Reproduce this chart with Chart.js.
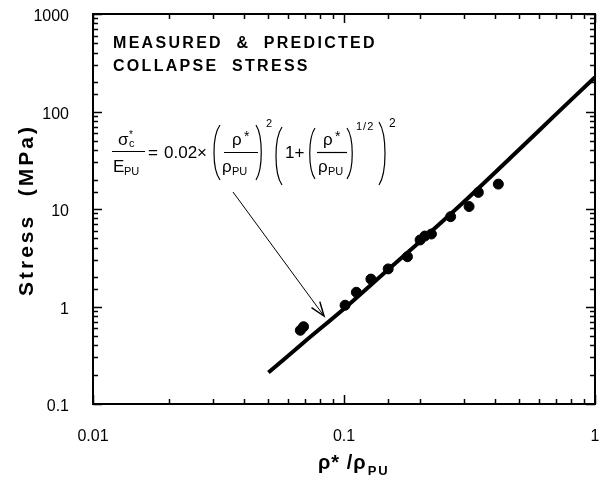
<!DOCTYPE html>
<html>
<head>
<meta charset="utf-8">
<script src="https://cdn.jsdelivr.net/npm/chart.js@4.4.0/dist/chart.umd.min.js"></script>
<style>
  html, body { margin: 0; padding: 0; background: #fff; }
</style>
</head>
<body>
<canvas id="chart" width="606" height="483"></canvas>
<script>
// measured collapse stress (points)
const densityRatio = [0.067, 0.069, 0.101, 0.112, 0.128, 0.150, 0.179, 0.201, 0.210, 0.223, 0.266, 0.315, 0.343, 0.412];
const measuredStress = [0.57, 0.62, 1.03, 1.40, 1.91, 2.43, 3.24, 4.81, 5.28, 5.54, 8.34, 10.6, 14.8, 18.0];

// predicted curve
const predictedRatio = [0.05, 0.07, 0.1, 0.15, 0.2, 0.3, 0.5, 0.7, 1];
const predictedStress = [0.21, 0.44, 0.95, 2.4, 4.6, 11.8, 41, 94, 225];

const xTickLabels = ['0.01', '0.1', '1'];
const yTickLabels = ['0.1', '1', '10', '100', '1000'];

const FONT = '"Liberation Sans", Arial, Helvetica, sans-serif';

function labelFor(list, v) {
    const l = list.find(t => Math.abs(Number(t) / v - 1) < 1e-6);
    return l === undefined ? '' : l;
}
function isDecade(v) {
    const l = Math.log10(v);
    return Math.abs(l - Math.round(l)) < 1e-6;
}

// frame, inward ticks, annotations
const decorations = {
    id: 'decorations',
    afterDraw(chart) {
        const ctx = chart.ctx;
        const a = chart.chartArea;
        const xs = chart.scales.x, ys = chart.scales.y;
        ctx.save();
        ctx.strokeStyle = '#000';
        ctx.fillStyle = '#000';

        // frame
        ctx.lineWidth = 2;
        ctx.strokeRect(a.left, a.top, a.right - a.left, a.bottom - a.top);

        // ticks
        ctx.lineWidth = 1.5;
        ctx.beginPath();
        xs.ticks.forEach(t => {
            const px = Math.round(xs.getPixelForValue(t.value)) + 0.5;
            const len = isDecade(t.value) ? 9 : 5;
            ctx.moveTo(px, a.bottom); ctx.lineTo(px, a.bottom - len);
            ctx.moveTo(px, a.top); ctx.lineTo(px, a.top + len);
        });
        ys.ticks.forEach(t => {
            const py = Math.round(ys.getPixelForValue(t.value)) + 0.5;
            const len = isDecade(t.value) ? 9 : 5;
            ctx.moveTo(a.left, py); ctx.lineTo(a.left + len, py);
            ctx.moveTo(a.right, py); ctx.lineTo(a.right - len, py);
        });
        ctx.stroke();

        // heading
        ctx.textBaseline = 'alphabetic';
        ctx.textAlign = 'left';
        ctx.font = 'bold 16px ' + FONT;
        ctx.letterSpacing = '2.3px';
        ctx.fillText('MEASURED  &  PREDICTED', 113, 48);
        ctx.fillText('COLLAPSE  STRESS', 113, 71);

        // axis titles
        ctx.font = 'bold 21px ' + FONT;
        ctx.letterSpacing = '3px';
        ctx.save();
        ctx.translate(33, 210);
        ctx.rotate(-Math.PI / 2);
        ctx.textAlign = 'center';
        ctx.fillText('Stress  (MPa)', 0, 0);
        ctx.restore();

        ctx.font = 'bold 20px ' + FONT;
        ctx.letterSpacing = '1px';
        ctx.fillText('ρ* /ρ', 318, 469);
        const w = ctx.measureText('ρ* /ρ').width;
        ctx.font = 'bold 13px ' + FONT;
        ctx.letterSpacing = '2px';
        ctx.fillText('PU', 318 + w + 1, 475);
        ctx.letterSpacing = '0px';

        // formula
        const main = '17px ' + FONT, small = '11px ' + FONT;
        const txt = (s, x, y, f) => { ctx.font = f; ctx.fillText(s, x, y); };
        const bar = (x1, x2, y) => {
            ctx.lineWidth = 1.2;
            ctx.beginPath(); ctx.moveTo(x1, y); ctx.lineTo(x2, y); ctx.stroke();
        };
        const paren = (x1, x2, y1, y2, left) => {
            const h = y2 - y1;
            ctx.lineWidth = 1.2;
            ctx.beginPath();
            if (left) {
                ctx.moveTo(x2, y1);
                ctx.bezierCurveTo(x1, y1 + h * 0.2, x1, y2 - h * 0.2, x2, y2);
            } else {
                ctx.moveTo(x1, y1);
                ctx.bezierCurveTo(x2, y1 + h * 0.2, x2, y2 - h * 0.2, x1, y2);
            }
            ctx.stroke();
        };

        txt('σ', 118, 145, main);
        txt('*', 129, 138, '10px ' + FONT);
        txt('c', 129, 147, small);
        bar(112, 145, 151.5);
        txt('E', 113, 172, main);
        txt('PU', 124, 175, small);
        txt('=', 148, 158, main);
        txt('0.02', 164, 158, main);
        txt('×', 197, 158, main);

        paren(212, 220, 125, 180, true);
        txt('ρ', 232, 145, main);
        txt('*', 244, 141, '14px ' + FONT);
        bar(224, 258, 152.5);
        txt('ρ', 222, 172, main);
        txt('PU', 232, 175, small);
        paren(256, 263, 125, 180, false);
        txt('2', 266, 127, small);

        paren(274, 282, 127, 185, true);
        txt('1+', 285, 158, main);
        paren(308, 315, 128, 179, true);
        txt('ρ', 323, 145, main);
        txt('*', 335, 141, '14px ' + FONT);
        bar(317, 347, 152.5);
        txt('ρ', 318, 172, main);
        txt('PU', 328, 175, small);
        paren(347, 354, 128, 179, false);
        ctx.letterSpacing = '1px';
        txt('1/2', 356, 130, small);
        ctx.letterSpacing = '0px';
        paren(379, 387, 122, 185, false);
        txt('2', 389, 127, '12px ' + FONT);

        // arrow
        ctx.lineWidth = 1;
        ctx.beginPath();
        ctx.moveTo(233, 192);
        ctx.lineTo(324, 316);
        ctx.stroke();
        const ang = Math.atan2(316 - 192, 324 - 233);
        ctx.beginPath();
        ctx.moveTo(324 - 15 * Math.cos(ang - 0.35), 316 - 15 * Math.sin(ang - 0.35));
        ctx.lineTo(324, 316);
        ctx.lineTo(324 - 15 * Math.cos(ang + 0.35), 316 - 15 * Math.sin(ang + 0.35));
        ctx.lineWidth = 1.5;
        ctx.stroke();

        ctx.restore();
    }
};

const ctx = document.getElementById('chart').getContext('2d');

const stressChart = new Chart(ctx, {
    type: 'scatter',
    data: {
        datasets: [
            {
                type: 'line',
                label: 'Predicted',
                data: predictedRatio.map((x, i) => ({ x: x, y: predictedStress[i] })),
                borderColor: '#000',
                borderWidth: 4,
                pointRadius: 0,
                fill: false,
                tension: 0.3
            },
            {
                label: 'Measured',
                data: densityRatio.map((x, i) => ({ x: x, y: measuredStress[i] })),
                backgroundColor: '#000',
                borderColor: '#000',
                pointRadius: 5
            }
        ]
    },
    options: {
        responsive: false,
        animation: false,
        devicePixelRatio: 1,
        layout: { padding: { top: 14, right: 11, left: 0, bottom: 0 } },
        plugins: {
            legend: { display: false },
            tooltip: { enabled: false }
        },
        scales: {
            x: {
                type: 'logarithmic',
                min: 0.01,
                max: 1,
                grid: { display: false },
                border: { display: false },
                afterFit: s => {
                    s.height = 79;
                    s.paddingLeft = 0; s.paddingRight = 0;
                },
                ticks: {
                    autoSkip: false,
                    maxRotation: 0,
                    padding: 15,
                    color: '#000',
                    font: { family: FONT, size: 16 },
                    callback: v => labelFor(xTickLabels, v)
                }
            },
            y: {
                type: 'logarithmic',
                min: 0.1,
                max: 1000,
                grid: { display: false },
                border: { display: false },
                afterFit: s => {
                    s.width = 93;
                    s.paddingTop = 0; s.paddingBottom = 0;
                },
                ticks: {
                    autoSkip: false,
                    padding: 16,
                    labelOffset: 3,
                    color: '#000',
                    font: { family: FONT, size: 16 },
                    callback: v => labelFor(yTickLabels, v)
                }
            }
        }
    },
    plugins: [decorations]
});
</script>
</body>
</html>
